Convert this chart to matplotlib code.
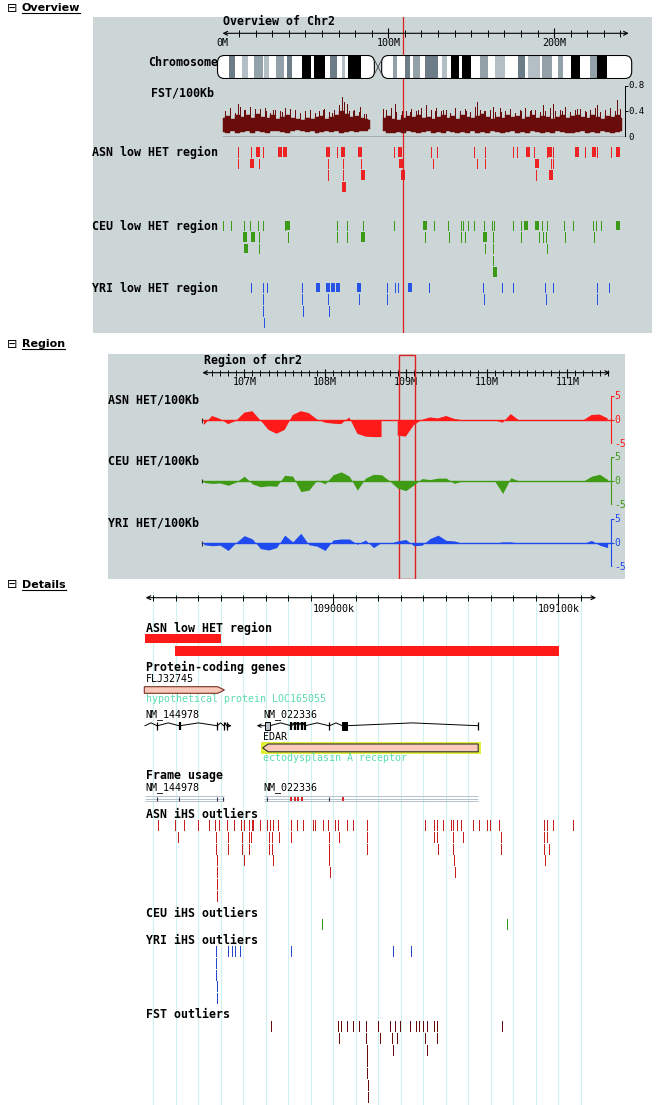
import numpy as np
import matplotlib
matplotlib.use('Agg')
import matplotlib.pyplot as plt
from matplotlib.patches import Rectangle, FancyBboxPatch, Polygon
from matplotlib.lines import Line2D

W, H = 660, 1105
nan = np.nan

# ---------------- Overview data (Mb) ----------------
chr_arms = [(-3.0, 91.6), (96.0, 246.8)]
band_start = [3.9, 12.0, 19.2, 25.2, 32.1, 39.1, 48.1, 55.4, 64.8, 71.9, 75.9, 102.6, 110.1, 114.7,
              122.1, 132.6, 137.6, 144.7, 155.3, 164.4, 178.4, 184.5, 192.5, 202.6, 210.0, 221.7, 226.1]
band_end = [7.5, 15.6, 24.2, 28.2, 37.1, 42.1, 53.4, 61.8, 68.9, 73.9, 83.5, 105.4, 113.1, 119.1,
            130.2, 135.2, 142.8, 149.7, 160.3, 170.4, 182.4, 191.5, 198.5, 205.6, 215.6, 226.1, 231.7]
band_stain = ['gpos75', 'gpos25', 'gpos50', 'gpos25', 'gpos50', 'gpos75', 'gpos100', 'gpos100', 'gpos75',
              'gpos25', 'gpos100', 'gpos50', 'gpos75', 'gpos50', 'gpos75', 'gpos25', 'gpos100', 'gpos100',
              'gpos50', 'gpos25', 'gpos75', 'gpos25', 'gpos50', 'gpos50', 'gpos100', 'gpos50', 'gpos100']
stain_color = {'gpos25': '#b3bfc4', 'gpos50': '#93a1a8', 'gpos75': '#6d7d87', 'gpos100': '#000000'}

# FST / 100Kb : dense core of the signal (3 Mb steps) ...
fst_pos = np.r_[0:90:3, 89, 93, 97:244:3]
fst_hi = [0.30, 0.33, 0.29, 0.35, 0.31, 0.34, 0.30, 0.36, 0.32, 0.30,
          0.34, 0.29, 0.31, 0.35, 0.30, 0.28, 0.26, 0.30, 0.28, 0.31,
          0.33, 0.29, 0.32, 0.34, 0.40, 0.36, 0.31, 0.33, 0.30, 0.28,
          0.26, nan,
          0.30, 0.33, 0.28, 0.26, 0.30, 0.33, 0.31, 0.35, 0.30, 0.32,
          0.29, 0.31, 0.34, 0.30, 0.33, 0.29, 0.35, 0.31, 0.30, 0.33,
          0.36, 0.31, 0.29, 0.32, 0.30, 0.34, 0.31, 0.33, 0.29, 0.32,
          0.35, 0.30, 0.33, 0.31, 0.29, 0.32, 0.34, 0.30, 0.33, 0.35,
          0.31, 0.30, 0.34, 0.32, 0.29, 0.33, 0.31, 0.34, 0.30]
fst_lo = [0.08, 0.06, 0.09, 0.07, 0.08, 0.10, 0.06, 0.09, 0.08, 0.07,
          0.09, 0.10, 0.08, 0.07, 0.09, 0.11, 0.10, 0.08, 0.09, 0.07,
          0.08, 0.10, 0.08, 0.09, 0.07, 0.08, 0.10, 0.08, 0.09, 0.10,
          0.12, nan,
          0.09, 0.07, 0.06, 0.08, 0.07, 0.09, 0.08, 0.06, 0.08, 0.09,
          0.07, 0.08, 0.06, 0.09, 0.08, 0.07, 0.08, 0.06, 0.09, 0.07,
          0.08, 0.06, 0.09, 0.08, 0.07, 0.08, 0.09, 0.06, 0.08, 0.07,
          0.09, 0.08, 0.06, 0.08, 0.07, 0.09, 0.08, 0.07, 0.06, 0.08,
          0.09, 0.07, 0.08, 0.06, 0.09, 0.08, 0.07, 0.08, 0.09]
# ... the hairs between the core steps ...
fst_hair_mb = np.r_[1.5:87:3, 98.5:241:3]
fst_hair_val = [0.41, 0.45, 0.38, 0.47, 0.42, 0.39, 0.44, 0.40, 0.46, 0.38,
                0.43, 0.41, 0.45, 0.39, 0.42, 0.37, 0.40, 0.43, 0.38, 0.41,
                0.44, 0.39, 0.42, 0.50, 0.46, 0.40, 0.43, 0.39, 0.36,
                0.42, 0.45, 0.39, 0.35, 0.41, 0.44, 0.40, 0.46, 0.39, 0.42,
                0.45, 0.40, 0.43, 0.38, 0.46, 0.41, 0.44, 0.39, 0.47, 0.42,
                0.40, 0.43, 0.39, 0.45, 0.41, 0.44, 0.38, 0.42, 0.46, 0.40,
                0.43, 0.39, 0.41, 0.45, 0.40, 0.43, 0.47, 0.39, 0.42, 0.44,
                0.40, 0.43, 0.46, 0.39, 0.42, 0.45, 0.41, 0.44]
# ... and the tallest spikes
fst_spike_mb = [9.5, 13, 16.6, 22.6, 26, 30.7, 36, 40.7, 47, 52.8, 60.8, 66, 72.3, 73.5, 74.9, 79, 83, 86.5,
                97, 104, 108, 113, 118, 123, 128, 133, 140, 147, 153.3, 158, 163.4, 168, 173.4, 180, 186,
                193.5, 199.5, 205, 213.6, 219, 225.7, 231, 237.7]
fst_spike_val = [0.51, 0.42, 0.47, 0.44, 0.40, 0.42, 0.39, 0.44, 0.38, 0.39, 0.42, 0.37, 0.63, 0.55, 0.52,
                 0.40, 0.47, 0.36, 0.44, 0.52, 0.40, 0.39, 0.42, 0.50, 0.40, 0.42, 0.38, 0.41, 0.55, 0.40,
                 0.47, 0.39, 0.42, 0.40, 0.43, 0.50, 0.52, 0.40, 0.44, 0.39, 0.50, 0.41, 0.58]

# low HET regions: one list per stacking row, (centre Mb, length Mb)
asn_low_rows = [
    [(9.5, .6), (17.2, .6), (21.6, 1.4), (24.6, .6), (34.7, 1.4), (37.7, 1.4), (63.4, 1.4), (68.9, .6),
     (72.5, 1.4), (82.9, 1.4), (103.6, .6), (107.2, 1.4), (125.8, .6), (129.6, .6), (151.9, .6), (158.5, .6),
     (175.4, .6), (177.4, .6), (184.1, 1.4), (188.1, .6), (195.5, .6), (197.5, 1.4), (199.5, .6), (213.6, 1.4),
     (218.6, .6), (224.1, 1.4), (226.1, .6), (234.3, .6), (238.4, 1.4)],
    [(9.5, .6), (17.6, 1.4), (22.0, .6), (63.8, .6), (72.9, .6), (83.5, .6), (107.7, 1.4), (127.1, .6),
     (153.3, .6), (158.5, .6), (189.5, 1.4), (198.0, .6), (199.5, .6)],
    [(63.8, .6), (72.9, .6), (84.6, 1.4), (108.7, 1.4), (189.1, .6), (198.0, 1.4)],
    [(73.1, 1.4)],
]
ceu_low_rows = [
    [(0.3, .6), (4.9, .6), (13.1, .6), (16.6, .6), (21.6, .6), (24.6, .6), (37.7, .6), (39.3, 1.4),
     (68.9, .6), (74.9, .6), (84.6, .6), (103.6, .6), (122.1, 1.4), (127.7, .6), (136.2, .6), (143.7, .6),
     (145.2, .6), (148.3, .6), (151.9, .6), (157.9, .6), (162.4, .6), (163.9, .6), (175.0, .6), (180.0, .6),
     (182.9, 1.4), (189.5, 1.4), (192.5, .6), (195.5, .6), (206.2, .6), (211.2, .6), (223.3, .6),
     (225.1, .6), (228.1, .6), (238.5, 1.4)],
    [(13.6, 1.4), (18.2, 1.4), (22.0, .6), (39.7, .6), (69.2, .6), (74.9, .6), (84.6, 1.4), (122.3, .6),
     (136.8, .6), (143.7, .6), (146.4, .6), (158.3, 1.4), (163.0, .6), (179.9, .6), (191.1, .6),
     (193.5, .6), (195.1, .6), (206.8, .6), (224.2, .6)],
    [(14.2, 1.4), (22.0, .6), (158.5, .6), (163.3, .6), (195.9, .6)],
    [(163.3, .6)],
    [(164.4, 1.4)],
]
yri_low_rows = [
    [(17.2, .6), (24.6, .6), (26.7, .6), (48.1, .6), (57.4, 1.4), (63.4, 1.4), (66.8, 1.4), (69.8, 1.4),
     (82.3, 1.4), (99.0, .6), (104.0, .6), (106.0, .6), (113.1, 1.4), (124.7, .6), (157.3, .6), (168.4, .6),
     (175.4, .6), (194.7, .6), (199.2, .6), (226.1, .6), (233.3, .6)],
    [(24.6, .6), (48.1, .6), (63.8, .6), (82.5, .6), (99.0, .6), (157.9, .6), (195.1, .6), (226.1, .6)],
    [(24.6, .6), (48.7, .6), (64.4, .6)],
    [(25.2, .6)],
]

# ---------------- Region data (Mb, HET per 100Kb) ----------------
het_pos = np.round(np.arange(106.5, 111.51, 0.1), 1)
asn_het = [-1.0, 0.9, 0.3, -0.8, -0.1, 1.6, 1.9, 0.0, -2.0, -2.8,
           -2.0, 1.1, 1.9, 1.5, 0.2, -0.5, -0.7, -0.8, 0.6, -2.8,
           -3.4, -3.5, -3.5, nan, -3.2, -3.4, -1.0, 0.1, 0.6, 0.4,
           0.9, 0.3, 0.0, 0.0, 0.0, 0.0, 0.0, -0.5, 1.3, 0.0,
           0.0, 0.0, 0.0, 0.0, 0.0, 0.0, 0.0, 0.0, 1.1, 1.2,
           0.4]
ceu_het = [-0.3, -0.5, -0.4, -0.9, -0.2, 1.0, -0.6, -1.2, -1.0, -1.1,
           1.2, 1.0, -2.2, -1.9, 0.2, -0.6, 1.3, 1.9, 1.0, -1.9,
           0.6, 1.4, 1.3, 0.0, -1.5, -2.0, -0.8, 0.5, 0.3, 0.6,
           0.6, -0.5, 0.0, 0.0, 0.0, 0.0, 0.0, -2.6, 0.7, 0.0,
           0.0, 0.0, 0.0, 0.0, 0.0, 0.0, 0.0, 0.0, 1.0, 1.4,
           0.3]
yri_het = [-0.3, -0.5, -0.4, -1.5, 0.2, 1.6, 0.9, -1.1, -1.4, -0.9,
           1.7, 0.3, 2.1, -0.3, -0.6, -1.5, 0.7, 0.9, 0.9, -0.2,
           0.7, -0.9, 0.2, 0.0, 0.5, 0.8, -0.5, -0.4, 1.0, 1.7,
           0.6, 0.5, 0.0, 0.0, 0.0, 0.0, 0.0, 0.3, 0.3, 0.0,
           0.0, 0.0, 0.0, 0.0, 0.0, 0.0, 0.0, 0.0, 0.6, -0.4,
           -0.9]

# ---------------- Details data (kb) ----------------
det_view = (108916.6, 109116.8)
asn_region_start = [108916.3, 108929.6]
asn_region_end = [108950.0, 109100.3]
flj_gene = (108916.0, 108951.6)
edar_gene = (108968.6, 109064.4)
nm144978_span = (108916.3, 108954.8)
nm144978_exons = [(108921.7, 108921.9), (108931.4, 108931.9), (108948.3, 108948.5),
                  (108951.3, 108951.5), (108952.5, 108952.7)]
nm022336_span = (108966.0, 109064.5)
nm022336_exons = [(108969.6, 108971.9), (108981.2, 108981.6), (108982.7, 108983.1), (108984.2, 108984.6),
                  (108985.9, 108986.3), (108987.2, 108987.6), (108998.0, 108998.4), (109004.0, 109006.0),
                  (109064.2, 109064.5)]
frame_tx = [(108916.3, 108951.6), (108969.3, 109064.4)]
frame_marks = [108921.8, 108931.6, 108948.4, 108951.1, 108970.6, 108998.2]
frame_red = [108981.3, 108982.8, 108984.4, 108986.0, 109004.5]

asn_ihs_rows = [
    [108922.2, 108929.6, 108933.8, 108940.0, 108944.9, 108947.4, 108949.3, 108952.9, 108956.0, 108959.0,
     108960.4, 108962.7, 108963.7, 108964.4, 108967.4, 108970.4, 108971.9, 108973.3, 108975.6, 108981.1,
     108984.0, 108986.7, 108990.8, 108991.9, 108995.3, 108997.8, 109000.8, 109002.2, 109006.0, 109008.6,
     109014.8, 109040.8, 109044.8, 109046.2, 109048.9, 109052.2, 109053.3, 109054.8, 109056.8, 109062.0,
     109064.9, 109068.2, 109069.6, 109073.8, 109093.8, 109095.1, 109097.8, 109106.7],
    [108930.8, 108947.7, 108953.3, 108959.6, 108962.5, 108963.4, 108971.4, 108972.6, 108976.0, 108981.3,
     108998.0, 109002.7, 109014.8, 109044.8, 109046.0, 109053.3, 109057.8, 109074.5, 109093.8, 109095.1],
    [108947.7, 108953.3, 108959.6, 108962.7, 108971.3, 108972.9, 108998.2, 109015.1, 109046.7, 109053.3,
     109074.5, 109093.8, 109096.0],
    [108948.2, 108960.4, 108973.1, 108998.2, 109053.8, 109094.2],
    [108948.2, 108998.5, 109054.1],
    [108948.2],
    [108948.2],
]
ceu_ihs_rows = [[108995.1, 109077.1]]
yri_ihs_rows = [
    [108948.0, 108953.3, 108954.8, 108956.3, 108958.5, 108981.3, 109026.4, 109034.4],
    [108948.0], [108948.0], [108948.4], [108948.4],
]
fst_out_rows = [
    [108972.2, 109002.2, 109003.4, 109006.2, 109008.6, 109011.6, 109014.5, 109020.0, 109025.2, 109027.4,
     109029.6, 109034.1, 109036.8, 109038.2, 109040.0, 109041.5, 109044.9, 109046.2, 109074.8],
    [109002.7, 109014.5, 109020.8, 109026.0, 109028.4, 109040.8, 109046.2],
    [109014.8, 109026.4, 109041.8],
    [109015.1], [109015.1], [109015.4], [109015.6],
]

# ---------------- styles ----------------
BG = '#ccd6d6'
RED = '#ee2222'
GREEN = '#3b9a18'
BLUE = '#2652e6'
FSTC = '#6b0c0c'
BOLD = dict(family='DejaVu Sans Mono', weight='bold', size=8.4)
REG = dict(family='DejaVu Sans Mono', size=7.2)
AQUA = '#5cdcb0'

fig = plt.figure(figsize=(W / 100, H / 100), dpi=100)
fig.patch.set_facecolor('white')


def px_axes(x0, y0, x1, y1, xlim, ylim):
    ax = fig.add_axes([x0 / W, 1 - y1 / H, (x1 - x0) / W, (y1 - y0) / H])
    ax.set_xlim(*xlim)
    ax.set_ylim(*ylim)
    ax.set_axis_off()
    return ax


def panel_bg(x0, y0, x1, y1):
    fig.add_artist(Rectangle((x0 / W, 1 - y1 / H), (x1 - x0) / W, (y1 - y0) / H,
                             transform=fig.transFigure, facecolor=BG, edgecolor='none', zorder=-5))


def ftext(x, y, s, **kw):
    kw.setdefault('va', 'center')
    return fig.text(x / W, 1 - y / H, s, **kw)


def stack(ax, rows, top, pitch, h, color, px_per_unit=None):
    for r, row in enumerate(rows):
        if px_per_unit is None:
            xs, lws = row, 0.72
        else:
            xs = [p for p, L in row]
            lws = [max(1.0, L * px_per_unit) * 0.72 for p, L in row]
        ax.vlines(xs, top + r * pitch, top + r * pitch + h, colors=color, linewidths=lws,
                  antialiased=False)


headers = []
for y, title in [(8, 'Overview'), (344, 'Region'), (585, 'Details')]:
    ftext(7, y, '\u229f', family='DejaVu Sans', size=9)
    headers.append(ftext(22, y, title, family='DejaVu Sans', weight='bold', size=8))

# ================= Overview =================
OV0, OVS = 222.5, 1.658          # pixel of 0 Mb, pixels per Mb
ov_xlim = ((93 - OV0) / OVS, (652 - OV0) / OVS)
panel_bg(93, 17, 652, 333)
ax_ov = px_axes(93, 17, 652, 333, ov_xlim, (333, 17))
ax_ov.text(0, 21.7, 'Overview of Chr2', ha='left', va='center', **BOLD)
ax_ov.annotate('', xy=(0, 33.3), xytext=(245, 33.3),
               arrowprops=dict(arrowstyle='<->', lw=0.8, color='k', shrinkA=0, shrinkB=0, mutation_scale=7))
ax_ov.vlines(np.arange(10, 241, 10), 30, 36.6, color='k', lw=0.7)
ax_ov.vlines([100, 200], 28.3, 37.7, color='k', lw=0.8)
for v in [0, 100, 200]:
    ax_ov.text(v, 43, f'{v}M', ha='center', va='center', **REG)

# ideogram
ax_chr = px_axes(93, 55, 652, 79, ov_xlim, (0, 1))
rx, ry = 7 / OVS, 7 / 24
for a, b in chr_arms:
    arm = FancyBboxPatch((a, 0.02), b - a, 0.96, boxstyle=f'round,pad=0,rounding_size={rx}',
                         mutation_aspect=ry / rx, facecolor='white', edgecolor='none')
    ax_chr.add_patch(arm)
    for s, e, st in zip(band_start, band_end, band_stain):
        if a <= s < b:
            r = ax_chr.add_patch(Rectangle((s, 0), e - s, 1, color=stain_color[st], lw=0))
            r.set_clip_path(arm)
    ax_chr.add_patch(FancyBboxPatch((a, 0.02), b - a, 0.96, boxstyle=f'round,pad=0,rounding_size={rx}',
                                    mutation_aspect=ry / rx, facecolor='none', edgecolor='black', lw=0.8))
cen_a, cen_b = chr_arms[0][1], chr_arms[1][0]
ax_chr.plot([cen_a, cen_b], [0.2, 0.8], color='#444444', lw=0.6)
ax_chr.plot([cen_a, cen_b], [0.8, 0.2], color='#444444', lw=0.6)
ftext(148, 63, 'Chromosome', **BOLD)

# FST/100Kb
ax_fst = px_axes(93, 86, 652, 137, ov_xlim, (0, 0.8))
ax_fst.fill_between(fst_pos, fst_lo, fst_hi, color=FSTC, lw=0.3, step='mid')
ax_fst.vlines(fst_hair_mb, 0.12, fst_hair_val, color=FSTC, lw=0.72, antialiased=False)
ax_fst.vlines(fst_spike_mb, 0.15, fst_spike_val, color=FSTC, lw=0.72, antialiased=False)
fst_end = 242.8
ax_fst.plot([0, fst_end], [0, 0], color='k', lw=1.0)
ax_fst.plot([fst_end, fst_end], [0, 0.8], color='k', lw=0.7)
ax_fst.hlines([0, 0.4, 0.8], fst_end, fst_end + 1.6, color='k', lw=0.7)
for v, lab in [(0, '0'), (0.4, '0.4'), (0.8, '0.8')]:
    ax_fst.text(fst_end + 1.9, v, lab, ha='left', va='center', family='DejaVu Sans Mono', size=6.5)
ftext(151, 93, 'FST/100Kb', **BOLD)

# low HET region tracks
stack(ax_ov, asn_low_rows, 147, 11.7, 9.5, RED, OVS)
stack(ax_ov, ceu_low_rows, 220.5, 11.7, 9.5, GREEN, OVS)
stack(ax_ov, yri_low_rows, 282.7, 11.7, 9.5, BLUE, OVS)
ftext(92, 152, 'ASN low HET region', **BOLD)
ftext(92, 226, 'CEU low HET region', **BOLD)
ftext(92, 288.5, 'YRI low HET region', **BOLD)

region_mid = (det_view[0] + det_view[1]) / 2000
ax_ov.axvline(region_mid, color='#e02020', lw=0.9)

# ================= Region =================
RG0, RGS = 244.3, 80.75          # pixel of 107 Mb, pixels per Mb
rg_xlim = (107 + (108 - RG0) / RGS, 107 + (625 - RG0) / RGS)
panel_bg(108, 354, 625, 579)
ax_rg = px_axes(108, 354, 625, 579, rg_xlim, (579, 354))
ax_rg.text(106.5, 360.5, 'Region of chr2', ha='left', va='center', **BOLD)
ax_rg.annotate('', xy=(106.48, 372.7), xytext=(111.53, 372.7),
               arrowprops=dict(arrowstyle='<->', lw=0.8, color='k', shrinkA=0, shrinkB=0, mutation_scale=7))
ax_rg.vlines(np.arange(106.6, 111.55, 0.1), 369.6, 375.8, color='k', lw=0.7)
ax_rg.vlines(np.arange(107, 112), 368.5, 378, color='k', lw=0.8)
for v in range(107, 112):
    ax_rg.text(v, 382.3, f'{v}M', ha='center', va='center', **REG)
ax_rg.add_patch(Rectangle((det_view[0] / 1000, 354.5), (det_view[1] - det_view[0]) / 1000, 224,
                          facecolor='none', edgecolor='#e02020', lw=1.0, zorder=5))

het_end = 111.54
for zero_y, vals, col, lab in [(420.3, asn_het, '#ff1a1a', 'ASN HET/100Kb'),
                               (481.0, ceu_het, '#3f9a14', 'CEU HET/100Kb'),
                               (543.3, yri_het, '#1f4af0', 'YRI HET/100Kb')]:
    ax = px_axes(108, zero_y - 24, 625, zero_y + 24, rg_xlim, (-5, 5))
    ax.fill_between(het_pos, 0, vals, color=col, lw=0)
    ax.plot([106.48, het_end], [0, 0], color=col, lw=1.0)
    ax.vlines(106.48, -0.5, 0.5, color='#333333', lw=0.8)
    ax.plot([het_end, het_end], [-5, 5], color=col, lw=0.8)
    ax.hlines([-5, 0, 5], het_end, het_end + 0.035, color=col, lw=0.8)
    for v in [5, 0, -5]:
        ax.text(het_end + 0.04, v, str(v), color=col, ha='left', va='center', family='DejaVu Sans Mono', size=7)
    ftext(108, zero_y - 20.3, lab, **BOLD)

# ================= Details =================
DT0, DTS = 333.3, 2.25           # pixel of 109000 kb, pixels per kb
ax_dt = px_axes(0, 585, 660, 1105, (109000 - DT0 / DTS, 109000 + (660 - DT0) / DTS), (1105, 585))
ax_dt.vlines(np.arange(108920, 109111, 10), 592, 1105, color='#d0f1f1', lw=0.8, zorder=0)
ax_dt.annotate('', xy=(det_view[0], 597.7), xytext=(det_view[1], 597.7),
               arrowprops=dict(arrowstyle='<->', lw=0.8, color='k', shrinkA=0, shrinkB=0, mutation_scale=7))
ax_dt.vlines(np.arange(108920, 109111, 10), 595, 600.5, color='k', lw=0.7)
ax_dt.vlines([109000, 109100], 594, 604, color='k', lw=0.8)
for v in [109000, 109100]:
    ax_dt.text(v, 609.3, f'{v}k', ha='center', va='center', **REG)

x_lab = det_view[0]
ax_dt.text(x_lab, 628.3, 'ASN low HET region', ha='left', va='center', **BOLD)
for (s, e), (top, h) in zip(zip(asn_region_start, asn_region_end), [(634.3, 9), (646, 9.7)]):
    ax_dt.add_patch(Rectangle((s, top), e - s, h, color='#ff1a1a', lw=0))

ax_dt.text(x_lab, 667.3, 'Protein-coding genes', ha='left', va='center', **BOLD)
ax_dt.text(x_lab, 679.3, 'FLJ32745', ha='left', va='center', **REG)


def gene_arrow(s, e, yc, half, tip, forward, ec):
    if forward:
        pts = [(s, yc - half), (e - tip, yc - half), (e, yc), (e - tip, yc + half), (s, yc + half)]
    else:
        pts = [(s, yc), (s + tip, yc - half), (e, yc - half), (e, yc + half), (s + tip, yc + half)]
    ax_dt.add_patch(Polygon(pts, closed=True, facecolor='#f9c9b9', edgecolor=ec, lw=0.8, zorder=3))


gene_arrow(flj_gene[0], flj_gene[1], 690, 3.3, 3.0, True, '#7a3020')
ax_dt.text(x_lab, 699.3, 'hypothetical protein LOC165055', color=AQUA, ha='left', va='center', **REG)

x_nm2 = nm022336_span[0] + 2.9
ax_dt.text(x_lab, 715, 'NM_144978', ha='left', va='center', **REG)
ax_dt.text(x_nm2, 715, 'NM_022336', ha='left', va='center', **REG)


def transcript(y, span, exons, arrow_end):
    prev = span[0]
    first = True
    for s, e in exons:
        if first and arrow_end == 'start':
            ax_dt.annotate('', xy=(prev, y), xytext=(s, y),
                           arrowprops=dict(arrowstyle='->', lw=0.7, color='k', shrinkA=0, shrinkB=0,
                                           mutation_scale=6))
        elif s > prev:
            ax_dt.plot([prev, (prev + s) / 2, s], [y, y - 2.8, y], color='k', lw=0.7)
        first = False
        if e - s > 1.0:
            ax_dt.add_patch(Rectangle((s, y - 3.8), e - s, 7.6, facecolor='#b8c0c8' if s < 108990 else 'k',
                                      edgecolor='k', lw=0.7, zorder=4))
        else:
            ax_dt.vlines((s + e) / 2, y - 3.8, y + 3.8, color='k', lw=0.9 if e - s < 0.4 else 1.6)
        prev = e
    if arrow_end == 'end':
        ax_dt.annotate('', xy=(span[1], y), xytext=(prev, y),
                       arrowprops=dict(arrowstyle='->', lw=0.7, color='k', shrinkA=0, shrinkB=0,
                                       mutation_scale=6))


transcript(725.7, nm144978_span, nm144978_exons, 'end')
transcript(725.7, nm022336_span, nm022336_exons, 'start')

ax_dt.text(x_nm2, 736.7, 'EDAR', ha='left', va='center', **REG)
ax_dt.add_patch(Rectangle((edar_gene[0] - 0.8, 741.7), edar_gene[1] - edar_gene[0] + 1.9, 12.3,
                          facecolor='#e2ee3a', edgecolor='none', zorder=2))
gene_arrow(edar_gene[0], edar_gene[1], 747.9, 3.9, 2.5, False, '#303030')
ax_dt.text(x_nm2, 758.3, 'ectodysplasin A receptor', color=AQUA, ha='left', va='center', **REG)

ax_dt.text(x_lab, 775.5, 'Frame usage', ha='left', va='center', **BOLD)
ax_dt.text(x_lab, 787.3, 'NM_144978', ha='left', va='center', **REG)
ax_dt.text(x_nm2, 787.3, 'NM_022336', ha='left', va='center', **REG)
for s, e in frame_tx:
    ax_dt.hlines([796, 798.5, 801], s, e, color='#b6c3cc', lw=0.7)
ax_dt.vlines(frame_marks, 797, 801, color='#303050', lw=0.8)
ax_dt.vlines(frame_red, 796.5, 800.5, color='#dd2020', lw=1.4)

ax_dt.text(x_lab, 814, 'ASN iHS outliers', ha='left', va='center', **BOLD)
stack(ax_dt, asn_ihs_rows, 820, 11.8, 10, '#c81e1e')
ax_dt.text(x_lab, 913.3, 'CEU iHS outliers', ha='left', va='center', **BOLD)
stack(ax_dt, ceu_ihs_rows, 919.3, 11.8, 10, '#2f931c')
ax_dt.text(x_lab, 940, 'YRI iHS outliers', ha='left', va='center', **BOLD)
stack(ax_dt, yri_ihs_rows, 946, 11.8, 10, '#2448c8')
ax_dt.text(x_lab, 1015, 'FST outliers', ha='left', va='center', **BOLD)
stack(ax_dt, fst_out_rows, 1020.7, 11.9, 10, '#640c0c')

# underline the section headers
rend = fig.canvas.get_renderer()
for t in headers:
    bb = t.get_window_extent(renderer=rend)
    fig.add_artist(Line2D([bb.x0 / W, bb.x1 / W], [(bb.y0 + 0.5) / H] * 2, transform=fig.transFigure,
                          color='k', lw=0.8))

fig.savefig('out.png', dpi=100)
